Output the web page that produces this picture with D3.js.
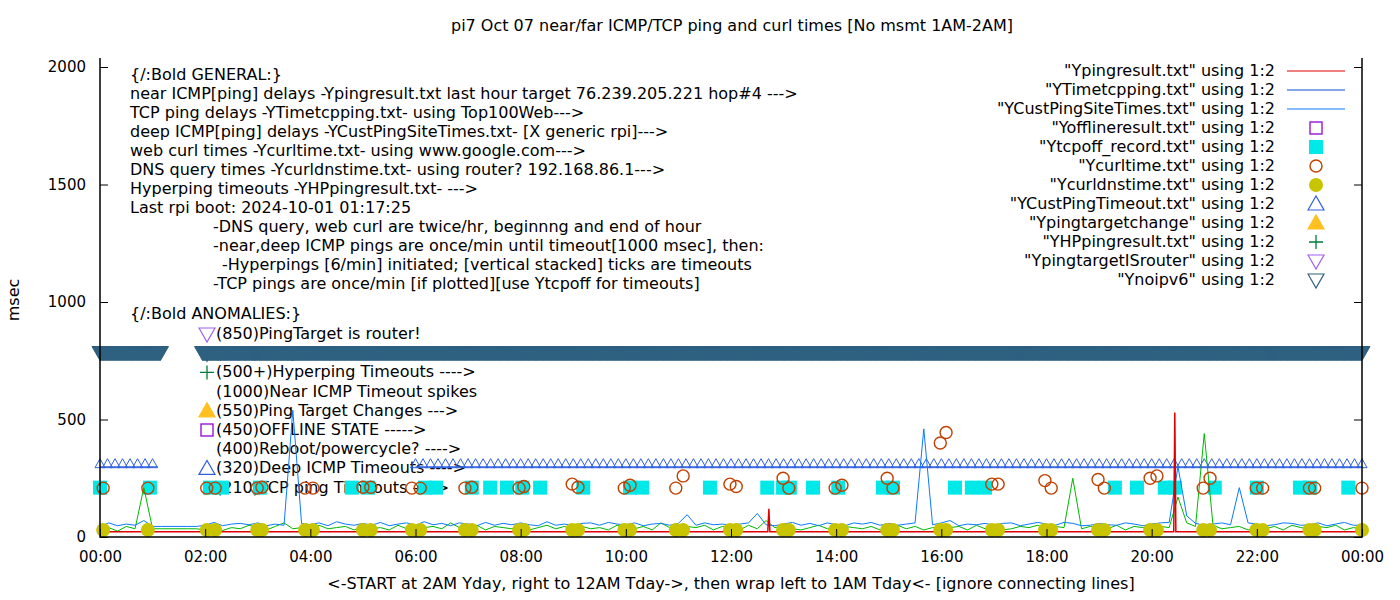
<!DOCTYPE html>
<html lang="en">
<head>
<meta charset="UTF-8">
<title>pi7 ping times</title>
<script src="https://cdn.jsdelivr.net/npm/d3@7"></script>
<style>
    body { margin: 0; background: white; }
    text { font-family: 'DejaVu Sans', sans-serif; font-size: 16px; fill: #000; }
</style>
</head>
<body>
<div id="chart"></div>
<script>
// ---------- data (hours since 00:00, msec) ----------
// deep ICMP delays, one sample per 10 minutes
const blueVals = [
    45,60,48,55,50,70, 45,45,45,45,45,45, 50,62,48,55,58,52, 60,48,55,50,540,58,
    52,60,48,65,55,50, 58,50,62,48,55,60, 50,65,52,58,48,60, 55,48,62,50,58,52,
    60,52,48,65,50,55, 48,58,60,50,62,55, 52,60,48,55,58,50, 58,95,50,60,52,55,
    50,55,60,100,52,48, 55,62,50,58,48,60, 52,48,60,55,62,50, 58,50,55,60,460,52,
    60,70,48,55,52,58, 50,58,60,48,55,62, 55,50,62,58,48,50, 58,52,50,60,55,48,
    55,60,62,300,90,58, 50,55,60,52,210,60, 55,48,52,60,58,50, 52,60,48,55,62,50, 50
];
// TCP / hyperping delays, one sample per 10 minutes
const greenVals = [
    30,40,25,45,35,210, 35,35,35,35,35,35, 30,45,28,40,35,50, 40,30,45,60,35,40,
    30,50,35,40,45,30, 45,35,40,30,50,35, 30,40,45,35,60,40, 35,50,30,45,40,35,
    45,30,40,50,35,45, 30,45,35,40,30,50, 40,35,45,30,60,40, 35,45,40,50,30,45,
    40,30,50,35,70,40, 45,35,30,40,50,35, 30,45,40,35,45,30, 40,50,35,45,30,40,
    35,40,45,30,50,35, 40,30,35,45,40,50, 35,45,40,250,35,45, 40,35,50,30,45,40,
    35,45,40,170,60,45, 440,50,35,40,45,30, 40,35,45,30,50,40, 35,45,40,50,30,40, 35
];
// near ICMP delays
const redPts = [[0,22],[12.7,22],[12.72,120],[12.74,22],[20.42,22],[20.44,530],[20.46,22],[24,22]];
// curl / dns measurement times
const curlTimes = [0.06,0.91,2.03,2.19,2.99,3.08,3.9,4.05,5.0,5.15,5.93,6.09,6.94,7.07,7.97,8.06,
    8.98,9.09,9.97,10.08,10.95,11.09,11.98,12.1,12.99,13.1,13.98,14.11,14.97,15.08,15.98,16.09,
    16.96,17.08,17.97,18.09,18.98,19.1,19.97,20.1,20.98,21.11,21.99,22.11,23.0,23.1,24.0];
const curlVals = [208,208,208,208,208,212,208,208,212,212,208,208,208,212,208,215,
    225,212,208,220,208,260,225,215,250,208,208,220,250,208,400,445,
    225,225,240,208,245,208,250,260,208,250,208,208,208,208,208];
const dnsVals = [30,30,30,30,30,30,30,30,30,30,30,30,30,30,30,30,
    30,30,30,30,30,30,30,30,30,30,30,30,30,30,30,30,
    30,30,30,30,30,30,30,30,30,30,30,30,30,30,30];
// TCP ping timeouts (plotted at 210)
const tcpOffTimes = [0.0,0.95,2.09,2.32,3.04,4.79,5.10,6.18,6.39,7.07,7.42,7.74,8.03,8.37,9.19,10.08,
    10.31,11.6,12.69,12.99,13.12,13.56,14.04,14.89,15.08,16.26,16.58,16.83,19.3,19.72,20.25,20.44,
    21.2,22.0,22.82,23.01,23.74];
// deep ICMP timeouts (320) and no-ipv6 (785), as [start,end] spans
const deepTimeoutSpans = [[0, 1.1], [6.0, 24]];
const noIpv6Spans = [[0, 1.15], [1.95, 24]];

const xTicks = d3.range(0, 25, 2);
const yTicks = [0, 500, 1000, 1500, 2000];

const generalLines = [
    [0, "{/:Bold GENERAL:}"],
    [0, "near ICMP[ping] delays -Ypingresult.txt last hour target 76.239.205.221 hop#4 --->"],
    [0, "TCP ping delays -YTimetcpping.txt- using Top100Web--->"],
    [0, "deep ICMP[ping] delays -YCustPingSiteTimes.txt- [X generic rpi]--->"],
    [0, "web curl times -Ycurltime.txt- using www.google.com--->"],
    [0, "DNS query times -Ycurldnstime.txt- using router? 192.168.86.1--->"],
    [0, "Hyperping timeouts -YHPpingresult.txt- --->"],
    [0, "Last rpi boot: 2024-10-01 01:17:25"],
    [83, "-DNS query, web curl are twice/hr, beginnng and end of hour"],
    [83, "-near,deep ICMP pings are once/min until timeout[1000 msec], then:"],
    [92, "-Hyperpings [6/min] initiated; [vertical stacked] ticks are timeouts"],
    [83, "-TCP pings are once/min [if plotted][use Ytcpoff for timeouts]"]
];
const anomalyLines = [
    ["dtriV", "(850)PingTarget is router!"],
    ["dtriN", "(785)No ipv6 fallback"],
    ["plus", "(500+)Hyperping Timeouts ---->"],
    [null, "(1000)Near ICMP Timeout spikes"],
    ["triG", "(550)Ping Target Changes --->"],
    ["sqO", "(450)OFFLINE STATE ----->"],
    [null, "(400)Reboot/powercycle? ---->"],
    ["triB", "(320)Deep ICMP Timeouts ---->"],
    [null, "(210)TCP ping Timeouts ---->"]
];
const legendItems = [
    ["\"Ypingresult.txt\" using 1:2", "lineR"],
    ["\"YTimetcpping.txt\" using 1:2", "lineB1"],
    ["\"YCustPingSiteTimes.txt\" using 1:2", "lineB2"],
    ["\"Yofflineresult.txt\" using 1:2", "sqO"],
    ["\"Ytcpoff_record.txt\" using 1:2", "sqC"],
    ["\"Ycurltime.txt\" using 1:2", "circO"],
    ["\"Ycurldnstime.txt\" using 1:2", "circY"],
    ["\"YCustPingTimeout.txt\" using 1:2", "triB"],
    ["\"Ypingtargetchange\" using 1:2", "triG"],
    ["\"YHPpingresult.txt\" using 1:2", "plus"],
    ["\"YpingtargetISrouter\" using 1:2", "dtriV"],
    ["\"Ynoipv6\" using 1:2", "dtriN"]
];

// ---------- layout ----------
const W = 1400, H = 600;
const margin = { left: 100, right: 38, top: 58, bottom: 63 };
const svg = d3.select("#chart").append("svg").attr("width", W).attr("height", H);
const x = d3.scaleLinear().domain([0, 24]).range([margin.left, W - margin.right]);
const y = d3.scaleLinear().domain([0, 2000]).range([H - margin.bottom, margin.top + 9]);

const C = {
    red: "#e00000", blue1: "#0050d0", blue2: "#0a7aff", green: "#00b800",
    triB: "#3060e0", navy: "#2f6080", cyan: "#00e8e8", orange: "#c04000",
    olive: "#c8c400", purple: "#9400d3", gold: "#ffc020", plus: "#007a3a", violet: "#a060f0"
};

function symbol(g, kind, cx, cy) {
    const s = 7;
    if (kind === "sqO") g.append("rect").attr("x", cx - 6).attr("y", cy - 6).attr("width", 12).attr("height", 12).attr("fill", "none").attr("stroke", C.purple).attr("stroke-width", 1.3);
    if (kind === "sqC") g.append("rect").attr("x", cx - 7).attr("y", cy - 7).attr("width", 14).attr("height", 14).attr("fill", C.cyan);
    if (kind === "circO") g.append("circle").attr("cx", cx).attr("cy", cy).attr("r", 6).attr("fill", "none").attr("stroke", C.orange).attr("stroke-width", 1.4);
    if (kind === "circY") g.append("circle").attr("cx", cx).attr("cy", cy).attr("r", 7).attr("fill", C.olive);
    if (kind === "triB" || kind === "triG") g.append("path").attr("d", `M${cx - 8},${cy + 6}L${cx},${cy - 8}L${cx + 8},${cy + 6}Z`)
        .attr("fill", kind === "triG" ? C.gold : "none").attr("stroke", kind === "triG" ? C.gold : C.triB).attr("stroke-width", 1.2);
    if (kind === "dtriV" || kind === "dtriN") g.append("path").attr("d", `M${cx - 8},${cy - 6}L${cx},${cy + 8}L${cx + 8},${cy - 6}Z`)
        .attr("fill", "none").attr("stroke", kind === "dtriV" ? C.violet : C.navy).attr("stroke-width", 1.2);
    if (kind === "plus") g.append("path").attr("d", `M${cx - s},${cy}H${cx + s}M${cx},${cy - s}V${cy + s}`)
        .attr("stroke", C.plus).attr("stroke-width", 1.3);
}

// title and axis labels
svg.append("text").attr("x", 732).attr("y", 31).attr("text-anchor", "middle").text("pi7 Oct 07  near/far ICMP/TCP ping and curl times [No msmt 1AM-2AM]");
svg.append("text").attr("x", 731).attr("y", 589).attr("text-anchor", "middle").text("<-START at 2AM Yday, right to 12AM Tday->, then wrap left to 1AM Tday<- [ignore connecting lines]");
svg.append("text").attr("transform", "translate(19,300) rotate(-90)").attr("text-anchor", "middle").text("msec");

// annotation text (drawn under the data)
generalLines.forEach(([dx, t], i) => {
    svg.append("text").attr("x", 130 + dx).attr("y", 80 + i * 19).text(t);
});
svg.append("text").attr("x", 130).attr("y", 319).text("{/:Bold ANOMALIES:}");
anomalyLines.forEach(([k, t], i) => {
    const cy = 334 + i * 19.2;
    svg.append("text").attr("x", 216).attr("y", cy + 5).text(t);
    if (k) symbol(svg, k, 207, cy);
});

// legend
legendItems.forEach(([t, k], i) => {
    const cy = 71 + i * 19;
    svg.append("text").attr("x", 1275).attr("y", cy + 5).attr("text-anchor", "end").text(t);
    if (k.startsWith("line")) {
        const col = k === "lineR" ? C.red : k === "lineB1" ? C.blue1 : C.blue2;
        svg.append("line").attr("x1", 1287).attr("x2", 1345).attr("y1", cy).attr("y2", cy).attr("stroke", col);
    } else symbol(svg, k, 1316, cy);
});

// ---------- data marks ----------
const plot = svg.append("g");
const tenMin = i => i / 6;

// no ipv6 band (dense down triangles every minute)
noIpv6Spans.forEach(([a, b]) => {
    plot.append("g").selectAll("path").data(d3.range(a, b + 1e-6, 1 / 60)).join("path")
        .attr("d", d => { const cx = x(d), cy = y(785); return `M${cx - 8},${cy - 6}L${cx},${cy + 8}L${cx + 8},${cy - 6}Z`; })
        .attr("fill", C.navy).attr("stroke", C.navy).attr("stroke-width", 1);
});

// deep ICMP timeouts
deepTimeoutSpans.forEach(([a, b]) => {
    plot.append("line").attr("x1", x(a)).attr("x2", x(b)).attr("y1", y(298)).attr("y2", y(298)).attr("stroke", C.triB).attr("stroke-width", 1.2);
    plot.append("g").selectAll("path").data(d3.range(a, b + 1e-6, 1 / 7)).join("path")
        .attr("d", d => { const cx = x(d), cy = y(312); return `M${cx - 5},${cy + 4}L${cx},${cy - 5}L${cx + 5},${cy + 4}Z`; })
        .attr("fill", "none").attr("stroke", C.triB).attr("stroke-width", 1);
});

// TCP ping timeouts
plot.append("g").selectAll("rect").data(tcpOffTimes).join("rect")
    .attr("x", d => x(d) - 7).attr("y", y(210) - 7).attr("width", 14).attr("height", 14).attr("fill", C.cyan);

// lines
const line = d3.line().x(d => x(d[0])).y(d => y(d[1]));
plot.append("path").attr("d", line(greenVals.map((v, i) => [tenMin(i), v]))).attr("fill", "none").attr("stroke", C.green).attr("stroke-width", 1);
plot.append("path").attr("d", line(blueVals.map((v, i) => [tenMin(i), v]))).attr("fill", "none").attr("stroke", C.blue2).attr("stroke-width", 1);
plot.append("path").attr("d", line(redPts)).attr("fill", "none").attr("stroke", C.red).attr("stroke-width", 1.5);

// curl and dns
plot.append("g").selectAll("circle").data(curlTimes.map((t, i) => [t, curlVals[i]])).join("circle")
    .attr("cx", d => x(d[0])).attr("cy", d => y(d[1])).attr("r", 6).attr("fill", "none").attr("stroke", C.orange).attr("stroke-width", 1.4);
plot.append("g").selectAll("circle").data(curlTimes.map((t, i) => [t, dnsVals[i]])).join("circle")
    .attr("cx", d => x(d[0])).attr("cy", d => y(d[1])).attr("r", 7).attr("fill", C.olive);

// ---------- axes ----------
svg.append("g").attr("transform", `translate(0,${H - margin.bottom})`)
    .call(d3.axisBottom(x).tickValues(xTicks).tickSize(-8).tickPadding(14)
        .tickFormat(d => String(d % 24 === 0 && d > 0 ? 0 : d).padStart(2, "0") + ":00"))
    .call(g => g.select(".domain").remove());
svg.append("g").attr("transform", `translate(${margin.left},0)`)
    .call(d3.axisLeft(y).tickValues(yTicks).tickSize(-8).tickPadding(14).tickFormat(d3.format("d")))
    .call(g => g.select(".domain").remove());
svg.append("g").attr("transform", `translate(${W - margin.right},0)`)
    .call(d3.axisRight(y).tickValues(yTicks).tickSize(-8).tickFormat(""))
    .call(g => g.select(".domain").remove());
svg.selectAll(".tick text").style("font-family", "'DejaVu Sans', sans-serif").style("font-size", "15px");
svg.append("path").attr("d", `M${margin.left},${margin.top}V${H - margin.bottom}H${W - margin.right}V${margin.top}`)
    .attr("fill", "none").attr("stroke", "#000").attr("stroke-width", 1.5);
</script>
</body>
</html>
